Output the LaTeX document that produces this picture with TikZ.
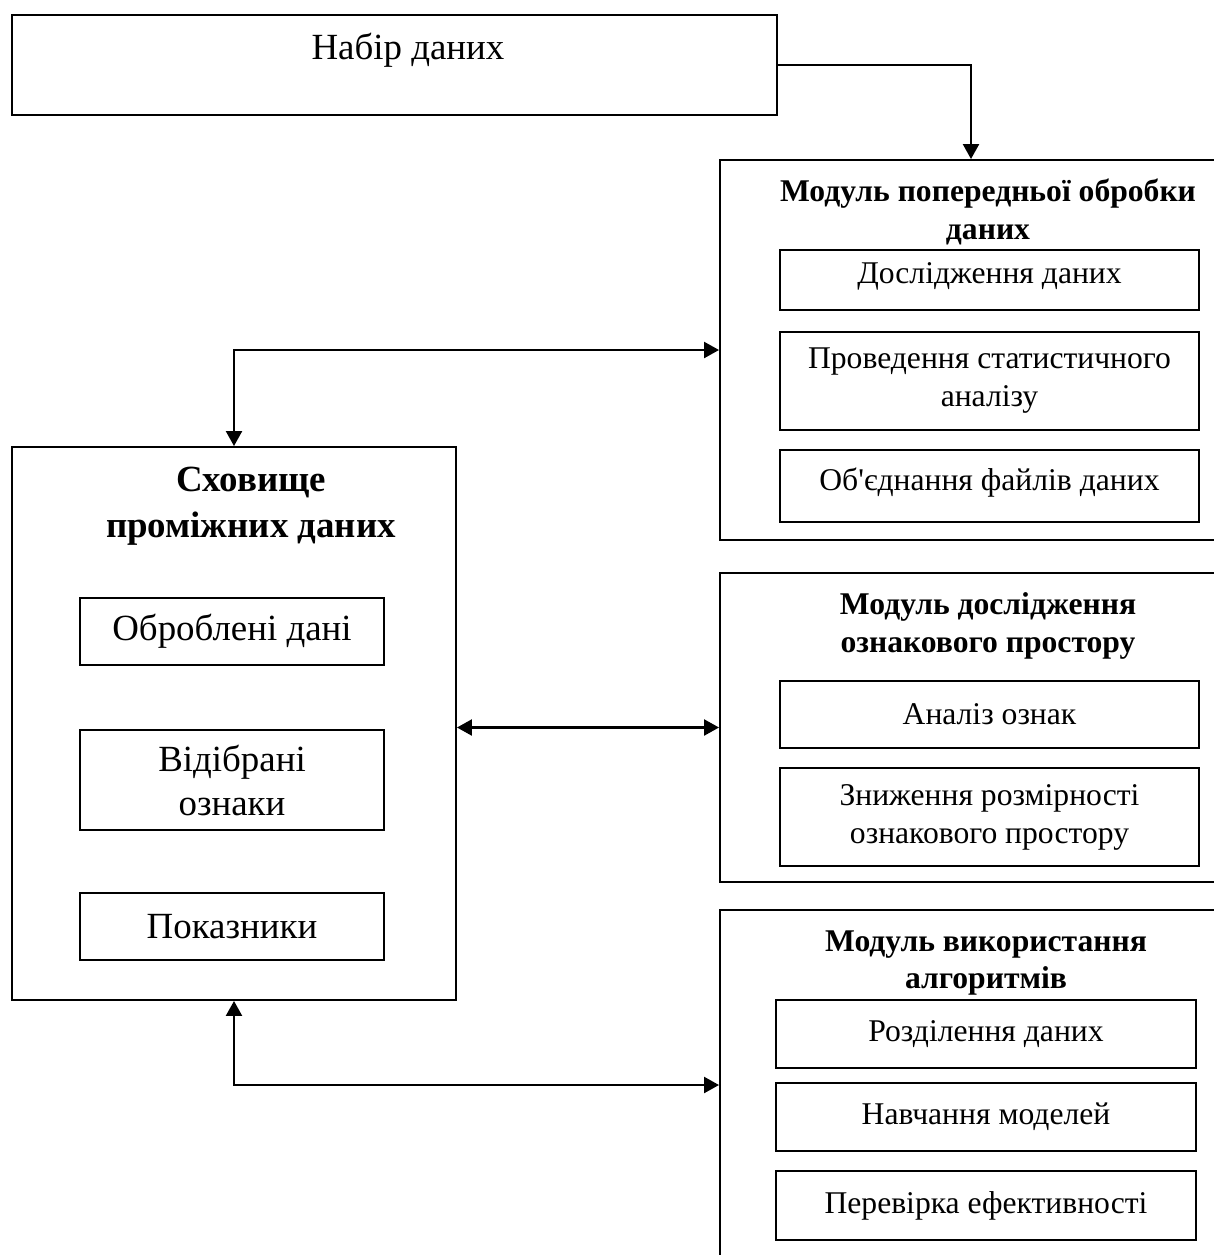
\documentclass[tikz,border=0pt]{standalone}
\usepackage{fontspec}
\setmainfont{Liberation Serif}[Ligatures=TeXOff]
\usetikzlibrary{fit,arrows.meta}

\begin{document}
\begin{tikzpicture}[x=0.02cm, y=-0.02cm,
    every node/.style={align=center},
    big/.style={font=\fontsize{21}{25}\selectfont},
    small/.style={font=\fontsize{18}{21.6}\selectfont},
    box/.style={draw, line width=1.1pt, inner sep=0pt},
    link/.style={line width=1.3pt, -{Triangle[length=0.3cm, width=0.32cm]}},
    both/.style={line width=1.3pt, {Triangle[length=0.3cm, width=0.32cm]}-{Triangle[length=0.3cm, width=0.32cm]}}]
  \useasboundingbox (0,0) rectangle (1214,1255);

  % Dataset
  \node[box, fit={(12,15) (777,115)}] (data) {};
  \node[big] (datatext) at (408,50) {Набір даних};

  % Preprocessing module
  \node[box, fit={(720,160) (1222,540)}] (mod1) {};
  \node[font=\fontsize{18}{21.6}\selectfont\bfseries] (mod1title) at (988,212) {Модуль попередньої обробки\\даних};
  \node[box, fit={(780,250) (1199,310)}] (explore) {};
  \node[small] (exploretext) at ([yshift=2]explore.center) {Дослідження даних};
  \node[box, fit={(780,332) (1199,430)}] (stats) {};
  \node[small] (statstext) at (stats.center) {Проведення статистичного\\аналізу};
  \node[box, fit={(780,450) (1199,522)}] (merge) {};
  \node[small] (mergetext) at ([yshift=2]merge.center) {Об'єднання файлів даних};

  % Intermediate storage
  \node[box, fit={(12,447) (456,1000)}] (store) {};
  \node[font=\fontsize{21}{26}\selectfont\bfseries] (storetitle) at (251,506) {Сховище\\проміжних даних};
  \node[box, fit={(80,598) (384,665)}] (processed) {};
  \node[big] (processedtext) at (processed.center) {Оброблені дані};
  \node[box, fit={(80,730) (384,830)}] (selected) {};
  \node[big] (selectedtext) at (selected.center) {Відібрані\\ознаки};
  \node[box, fit={(80,893) (384,960)}] (metrics) {};
  \node[big] (metricstext) at (metrics.center) {Показники};

  % Feature space module
  \node[box, fit={(720,573) (1222,882)}] (mod2) {};
  \node[font=\fontsize{18}{21.6}\selectfont\bfseries] (mod2title) at (988,626) {Модуль дослідження\\ознакового простору};
  \node[box, fit={(780,681) (1199,748)}] (analysis) {};
  \node[small] (analysistext) at (analysis.center) {Аналіз ознак};
  \node[box, fit={(780,768) (1199,866)}] (reduce) {};
  \node[small] (reducetext) at (reduce.center) {Зниження розмірності\\ознакового простору};

  % Algorithms module
  \node[box, fit={(720,910) (1222,1260)}] (mod3) {};
  \node[font=\fontsize{18}{21.6}\selectfont\bfseries] (mod3title) at (986,963) {Модуль використання\\алгоритмів};
  \node[box, fit={(776,1000) (1196,1068)}] (split) {};
  \node[small] (splittext) at (split.center) {Розділення даних};
  \node[box, fit={(776,1083) (1196,1151)}] (train) {};
  \node[small] (traintext) at (train.center) {Навчання моделей};
  \node[box, fit={(776,1171) (1196,1240)}] (check) {};
  \node[small] (checktext) at (check.center) {Перевірка ефективності};

  % Connectors
  \draw[link] (data.east) -| (mod1.north);
  \draw[both] (store.north) |- (mod1.west);
  \draw[both] (mod2.west -| store.east) -- (mod2.west);
  \draw[both] (store.south) |- (mod3.west);
\end{tikzpicture}
\end{document}
